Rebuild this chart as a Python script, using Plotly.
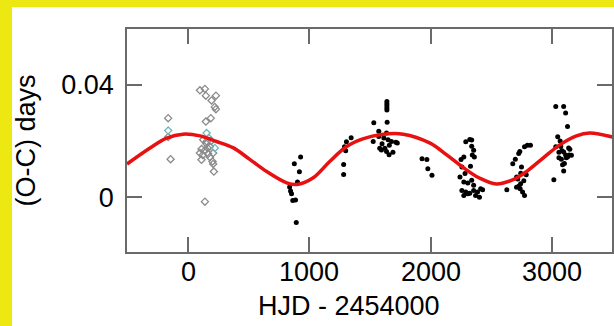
import plotly.graph_objects as go

# Fitted model curve
fit_x = [-505, -315, -178, -43, 97, 234, 370, 500, 648, 813, 897, 1029, 1168, 1308, 1441, 1581, 1774,
         1997, 2131, 2268, 2404, 2544, 2682, 2792, 2929, 3067, 3205, 3314, 3500]
fit_y = [0.0118, 0.0175, 0.0210, 0.0224, 0.0218, 0.0198, 0.0176, 0.0137, 0.0091, 0.0051, 0.0045, 0.0068,
         0.0127, 0.0180, 0.0207, 0.0222, 0.0224, 0.0192, 0.0151, 0.0106, 0.0068, 0.0047, 0.0062, 0.0091,
         0.0139, 0.0186, 0.0218, 0.0228, 0.0214]

# Early (gray diamond) observations
gray_x = [-165, -145, -165, 97, 138, 146, 193, 229, 220, 229, 187, 146, 124, 152, 110, 138, 179, 97,
          165, 206, 110, 179, 201, 206, 212, 138, 150, 190, 120, 160]
gray_y = [0.0281, 0.0135, 0.0214, 0.0380, 0.0385, 0.0361, 0.0344, 0.0361, 0.0321, 0.0313, 0.0281,
          0.0269, 0.0204, 0.0198, 0.0171, 0.0166, 0.0180, 0.0157, 0.0154, 0.0157, 0.0133, 0.0142,
          0.0127, 0.0118, 0.0091, -0.0016, 0.0190, 0.0200, 0.0150, 0.0175]
cyan_x = [-165, 152, 220, 170]
cyan_y = [0.0237, 0.0228, 0.0175, 0.0210]

# Later (black dot) observations
black_x = [837, 853, 863, 886, 902, 876, 918, 928, 892, 845,
           1283, 1283, 1290, 1306, 1345, 1300,
           1532, 1527, 1573, 1573, 1581, 1595, 1623, 1637, 1650, 1678, 1714, 1637, 1658, 1642,
           1640, 1640, 1640, 1640, 1640, 1600, 1615, 1660, 1726, 1690,
           1930, 1970, 1978, 2012,
           2252, 2275, 2291, 2324, 2340, 2340, 2356, 2362, 2259, 2285, 2243, 2275, 2308, 2340,
           2356, 2259, 2291, 2324, 2356, 2388, 2414, 2430, 2372, 2404, 2275, 2308, 2330, 2345,
           2630, 2679, 2700, 2728, 2737, 2776, 2800, 2825, 2751, 2711, 2745, 2744, 2770, 2720,
           2740, 2776, 2760, 2730, 2710, 2790,
           3018, 3034, 3099, 3115, 3131, 3034, 3050, 3075, 3060, 3085, 3099, 3115, 3060, 3080,
           3131, 3120, 3145, 3163, 3090, 3105, 3099, 3150, 3070, 3140]
black_y = [0.0036, 0.0012, -0.0012, -0.0010, 0.0054, 0.0119, 0.0090, 0.0143, -0.0090, 0.0022,
           0.0081, 0.0116, 0.0179, 0.0197, 0.0211, 0.0165,
           0.0265, 0.0198, 0.0234, 0.0216, 0.0174, 0.0168, 0.0174, 0.0228, 0.0204, 0.0198, 0.0195,
           0.0162, 0.0151, 0.0266, 0.0340, 0.0332, 0.0325, 0.0317, 0.0310, 0.0190, 0.0210, 0.0185,
           0.0193, 0.0160,
           0.0137, 0.0134, 0.0101, 0.0078,
           0.0134, 0.0143, 0.0197, 0.0205, 0.0203, 0.0181, 0.0167, 0.0143, 0.0107, 0.0084, 0.0072,
           0.0054, 0.0050, 0.0060, 0.0042, 0.0024, 0.0018, 0.0014, 0.0024, 0.0018, 0.0030, 0.0026,
           0.0006, 0.0000, 0.0006, 0.0012, 0.0110, 0.0150,
           0.0026, 0.0119, 0.0135, 0.0155, 0.0162, 0.0179, 0.0185, 0.0185, 0.0107, 0.0072, 0.0085,
           0.0048, 0.0058, 0.0065, 0.0030, 0.0006, 0.0018, 0.0040, 0.0035, 0.0080,
           0.0062, 0.0322, 0.0322, 0.0299, 0.0251, 0.0179, 0.0215, 0.0180, 0.0160, 0.0165, 0.0161,
           0.0150, 0.0140, 0.0135, 0.0143, 0.0140, 0.0150, 0.0149, 0.0115, 0.0120, 0.0093, 0.0170,
           0.0200, 0.0175]

x_ticks = [0, 1000, 2000, 3000]
x_tick_text = ["0", "1000", "2000", "3000"]
y_ticks = [0, 0.04]
y_tick_text = ["0", "0.04"]
x_title = "HJD - 2454000"
y_title = "(O-C) days"

FONT = "Arial, Liberation Sans, Helvetica, sans-serif"
FS = 27

fig = go.Figure()
fig.add_trace(go.Scatter(x=gray_x, y=gray_y, mode="markers",
                         marker=dict(symbol="diamond-open", size=5.5, color="#8a8a8a", line=dict(width=1.3))))
fig.add_trace(go.Scatter(x=cyan_x, y=cyan_y, mode="markers",
                         marker=dict(symbol="diamond-open", size=5.5, color="#6fb8bc", line=dict(width=1.3))))
fig.add_trace(go.Scatter(x=black_x, y=black_y, mode="markers",
                         marker=dict(symbol="circle", size=5, color="black")))
fig.add_trace(go.Scatter(x=fit_x, y=fit_y, mode="lines",
                         line=dict(color="rgb(232,16,16)", width=3.5, shape="spline", smoothing=1.0)))

W, H = 614, 326
L, R, T, B = 127, 2, 29, 74
pw, ph = W - L - R, H - T - B

def px(xp):
    return (xp - L) / pw

def py(yp):
    return (H - B - yp) / ph

yellow = "#EEE812"
fig.add_shape(type="rect", xref="paper", yref="paper", x0=px(0), x1=px(12), y0=py(H), y1=py(0),
              fillcolor=yellow, line_width=0, layer="below")
fig.add_shape(type="rect", xref="paper", yref="paper", x0=px(0), x1=px(W), y0=py(7), y1=py(0),
              fillcolor=yellow, line_width=0, layer="below")

# x tick labels as annotations placed at the tick values (for exact vertical placement)
for xv, xt in zip(x_ticks, x_tick_text):
    fig.add_annotation(x=xv, xref="x", y=py(271.5), yref="paper", text=xt, showarrow=False,
                       xanchor="center", yanchor="middle",
                       font=dict(family=FONT, size=FS, color="black"))
fig.add_annotation(x=px(349), xref="paper", y=py(306), yref="paper", text=x_title, showarrow=False,
                   xanchor="center", yanchor="middle", font=dict(family=FONT, size=FS, color="black"))

axis_common = dict(showline=True, mirror="allticks", linecolor="#6a6a6a", linewidth=1.5,
                   ticks="inside", ticklen=15, tickwidth=1.5, tickcolor="#6a6a6a",
                   showgrid=False, zeroline=False,
                   tickfont=dict(family=FONT, size=FS, color="black"))

fig.update_xaxes(range=[-505, 3498], tickvals=x_ticks, showticklabels=False, **axis_common)
fig.update_yaxes(range=[-0.0195, 0.0598], tickvals=y_ticks, ticktext=y_tick_text, ticklabelstandoff=6,
                 title=dict(text=y_title, font=dict(family=FONT, size=FS, color="black"), standoff=18),
                 **axis_common)

fig.update_layout(width=W, height=H, margin=dict(l=L, r=R, t=T, b=B, autoexpand=False),
                  paper_bgcolor="white", plot_bgcolor="white", showlegend=False)

fig.write_html("out.html")
